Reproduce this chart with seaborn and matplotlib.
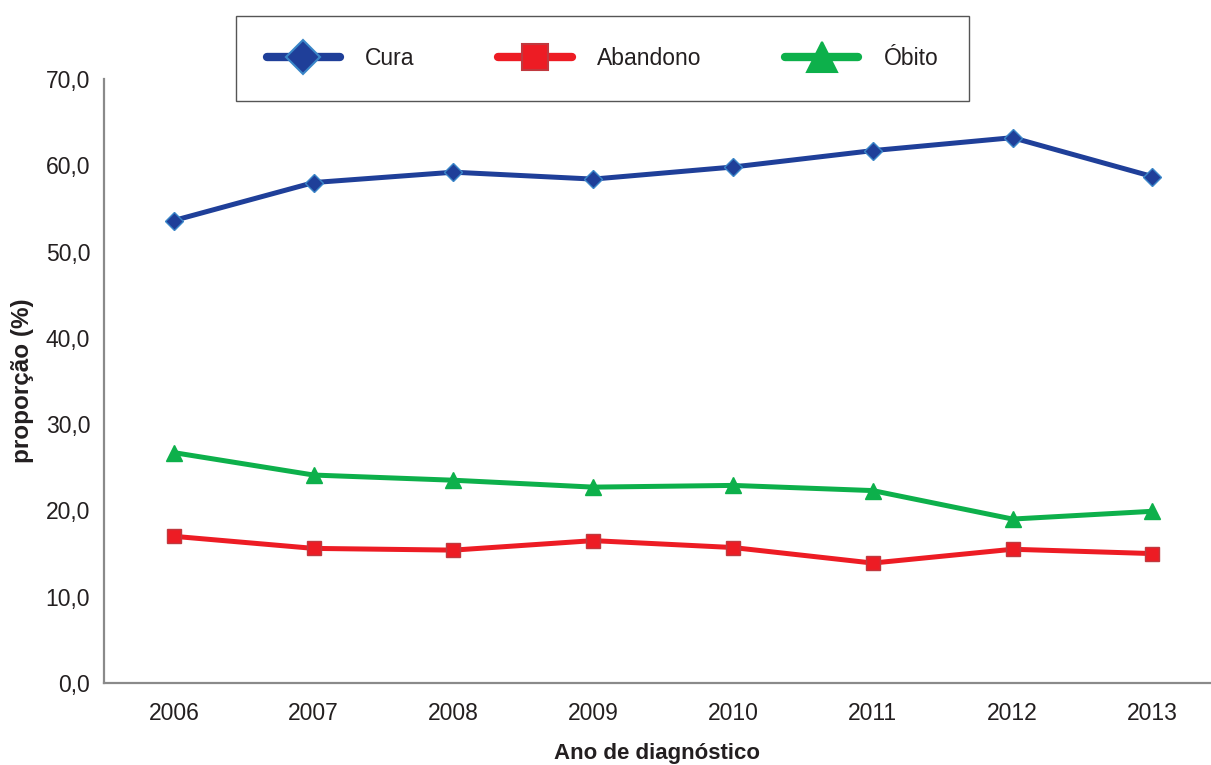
import matplotlib
matplotlib.use("Agg")
import matplotlib.pyplot as plt
from matplotlib.lines import Line2D
from matplotlib.ticker import FuncFormatter, MultipleLocator
import seaborn as sns
import pandas as pd

# Treatment outcome proportions (%) by year of diagnosis
anos = [2006, 2007, 2008, 2009, 2010, 2011, 2012, 2013]
cura = [53.6, 58.0, 59.2, 58.4, 59.8, 61.7, 63.2, 58.7]
abandono = [17.0, 15.6, 15.4, 16.5, 15.7, 13.9, 15.5, 15.0]
obito = [26.7, 24.1, 23.5, 22.7, 22.9, 22.3, 19.0, 19.9]

series = ["Cura", "Abandono", "Óbito"]
cores = {"Cura": "#1F3F99", "Abandono": "#ED1C24", "Óbito": "#0DB04B"}
bordas = {"Cura": "#3A86C8", "Abandono": "#C0393F", "Óbito": "#0DB04B"}
marcadores = {"Cura": "D", "Abandono": "s", "Óbito": "^"}
tamanhos = {"Cura": 9, "Abandono": 10, "Óbito": 11}

df = pd.DataFrame({
    "ano": anos * 3,
    "serie": ["Cura"] * 8 + ["Abandono"] * 8 + ["Óbito"] * 8,
    "valor": cura + abandono + obito,
})

sns.set_theme(style="white")
plt.rcParams["font.family"] = ["Liberation Sans", "DejaVu Sans"]

fig = plt.figure(figsize=(12.11, 7.65), dpi=100)
ax = fig.add_axes([104 / 1211, 82 / 765, 1 - 104 / 1211, (683 - 79) / 765])

for s in series:
    sub = df[df["serie"] == s]
    sns.lineplot(data=sub, x="ano", y="valor", ax=ax, color=cores[s],
                 linewidth=3.6, marker=marcadores[s], markersize=tamanhos[s],
                 markerfacecolor=cores[s], markeredgecolor=bordas[s],
                 markeredgewidth=1.0, legend=False)

ax.set_xlim(2005.5, 2013.42)
ax.set_ylim(0, 70)
ax.set_xticks(anos)
ax.yaxis.set_major_locator(MultipleLocator(10))
ax.yaxis.set_major_formatter(FuncFormatter(lambda v, p: f"{v:.1f}".replace(".", ",")))
ax.tick_params(axis="both", labelsize=16.5, colors="#231F20", length=0)
ax.tick_params(axis="x", pad=14)
ax.tick_params(axis="y", pad=10)

for side in ["top", "right"]:
    ax.spines[side].set_visible(False)
for side in ["left", "bottom"]:
    ax.spines[side].set_color("#8A8A8A")
    ax.spines[side].set_linewidth(1.6)

ax.set_xlabel("Ano de diagnóstico", fontsize=16, fontweight="bold", color="#231F20", labelpad=13)
ax.set_ylabel("proporção (%)", fontsize=17.5, fontweight="bold", color="#231F20", labelpad=8)

handles = [
    Line2D([0], [0], color=cores[s], linewidth=6, solid_capstyle="round",
           marker=marcadores[s], markersize=tamanhos[s] * 1.9,
           markerfacecolor=cores[s], markeredgecolor=bordas[s], markeredgewidth=1.5)
    for s in series
]
leg = fig.legend(handles, series, loc="center", ncol=3,
                 bbox_to_anchor=(602.5 / 1211, 1 - 58.5 / 765),
                 bbox_transform=fig.transFigure, fontsize=16.5, frameon=True,
                 fancybox=False, framealpha=1, edgecolor="#555555",
                 handlelength=3.2, handletextpad=1.1, columnspacing=3.65,
                 borderpad=1.34, borderaxespad=0)
leg.get_frame().set_linewidth(1.0)
for t in leg.get_texts():
    t.set_color("#231F20")

fig.savefig("out.png", dpi=100)
